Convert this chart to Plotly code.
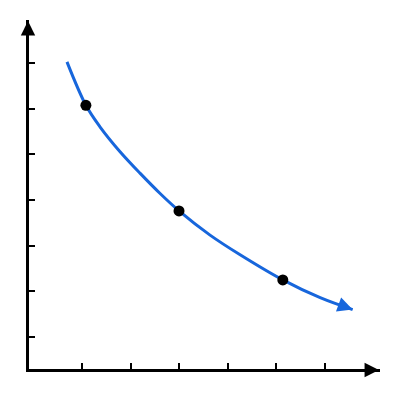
import plotly.graph_objects as go

# точки кривой
curve_x = [0.69, 1.08, 1.37, 1.78, 2.20, 2.61, 3.00, 3.64, 4.26, 5.14, 5.91, 6.58]
curve_y = [7.02, 6.07, 5.60, 5.06, 4.58, 4.14, 3.76, 3.23, 2.80, 2.25, 1.86, 1.60]

# отмеченные точки
dots_x = [1.08, 3.00, 5.14]
dots_y = [6.07, 3.76, 2.25]

# деления осей
x_ticks = [1, 2, 3, 4, 5, 6]
y_ticks = [1, 2, 3, 4, 5, 6, 7]

blue = "#1766dc"

fig = go.Figure()

fig.add_trace(go.Scatter(x=curve_x, y=curve_y, mode="lines",
                         line=dict(color=blue, width=3, shape="spline"),
                         hoverinfo="skip"))
fig.add_trace(go.Scatter(x=dots_x, y=dots_y, mode="markers",
                         marker=dict(color="black", size=11)))

# стрелка на конце кривой: направление по двум последним точкам
px_x, px_y = 48.5, 45.7  # пикселей на единицу
dx = (curve_x[-1] - curve_x[-2]) * px_x
dy = (curve_y[-1] - curve_y[-2]) * px_y
n = (dx ** 2 + dy ** 2) ** 0.5
fig.add_annotation(x=curve_x[-1], y=curve_y[-1], text="", showarrow=True,
                   ax=-dx / n * 12, ay=dy / n * 12,
                   arrowhead=2, arrowsize=1.0, arrowwidth=3, arrowcolor=blue)

# стрелки осей
fig.add_annotation(xref="paper", yref="paper", x=0.997, y=0, text="", showarrow=True,
                   ax=-14, ay=0, yshift=-1, arrowhead=2, arrowsize=1.15,
                   arrowwidth=2.5, arrowcolor="black")
fig.add_annotation(xref="paper", yref="paper", x=0, y=0.997, text="", showarrow=True,
                   ax=0, ay=14, xshift=-1, arrowhead=2, arrowsize=1.15,
                   arrowwidth=2.5, arrowcolor="black")

fig.update_xaxes(range=[-0.093, 7.144], showline=True, linewidth=2.5, linecolor="black",
                 ticks="inside", ticklen=6, tickwidth=2, tickcolor="black",
                 tickvals=x_ticks, showticklabels=False, showgrid=False, zeroline=False)
fig.update_yaxes(range=[0.300, 7.937], showline=True, linewidth=2.5, linecolor="black",
                 ticks="inside", ticklen=6, tickwidth=2, tickcolor="black",
                 tickvals=y_ticks, showticklabels=False, showgrid=False, zeroline=False)

# у страницы отступ 8px, поэтому поля меньше
fig.update_layout(width=400, height=400, showlegend=False,
                  margin=dict(l=21, r=28, t=12, b=39),
                  paper_bgcolor="white", plot_bgcolor="white")

fig.write_html("out.html")
